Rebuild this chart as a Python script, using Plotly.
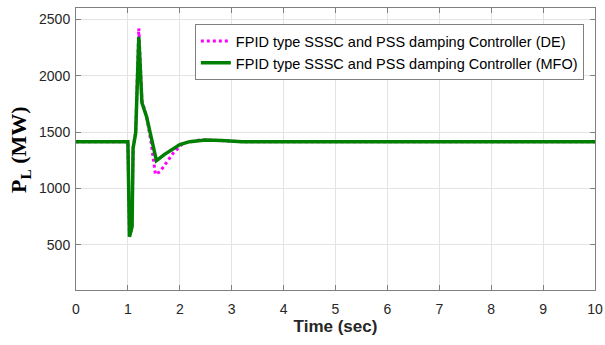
import plotly.graph_objects as go

# Time (sec) and load power P_L (MW)
t_de = [0, 1.0, 1.03, 1.08, 1.10, 1.15, 1.21, 1.27, 1.36, 1.45, 1.53, 1.62, 1.71, 1.87, 2.06, 2.4, 2.8, 3.2, 10]
p_de = [1415, 1415, 580, 650, 1360, 1500, 2420, 1780, 1640, 1400, 1125, 1150, 1208, 1312, 1400, 1432, 1425, 1415, 1415]

t_mfo = [0, 1.0, 1.03, 1.08, 1.10, 1.15, 1.21, 1.27, 1.36, 1.45, 1.55, 1.7, 1.87, 2.0, 2.19, 2.5, 2.8, 3.2, 10]
p_mfo = [1415, 1415, 572, 661, 1356, 1492, 2345, 1760, 1636, 1450, 1246, 1300, 1356, 1390, 1415, 1430, 1425, 1415, 1415]

x_ticks = list(range(0, 11))
y_ticks = [500, 1000, 1500, 2000, 2500]

name_de = "FPID type SSSC and PSS damping Controller (DE)"
name_mfo = "FPID type SSSC and PSS damping Controller (MFO)"

fig = go.Figure()
fig.add_trace(go.Scatter(x=t_de, y=p_de, mode="lines", name=name_de,
                         line=dict(color="#ff00ff", width=3, dash="dot")))
fig.add_trace(go.Scatter(x=t_mfo, y=p_mfo, mode="lines", name=name_mfo,
                         line=dict(color="#008000", width=3.5)))

axis_common = dict(showgrid=True, gridcolor="#e3e3e3", gridwidth=1, automargin=False,
                   showline=True, linecolor="#808080", linewidth=1, mirror="ticks",
                   ticks="inside", ticklen=5, tickcolor="#808080", zeroline=False,
                   tickfont=dict(family="Liberation Sans, Arial", size=14, color="#262626"))

fig.update_xaxes(range=[0, 10], tickvals=x_ticks, ticklabelstandoff=6, **axis_common,
                 title=dict(text="<b>Time (sec)</b>", standoff=0,
                            font=dict(family="Liberation Sans, Arial", size=17, color="#262626")))
fig.update_yaxes(range=[100, 2600], tickvals=y_ticks, ticklabelstandoff=2, **axis_common)

fig.add_annotation(text="<b>P<sub>L</sub> (MW)</b>", xref="paper", yref="paper",
                   x=-0.108, y=0.5, xanchor="center", yanchor="middle", textangle=-90,
                   showarrow=False,
                   font=dict(family="Liberation Serif, Times New Roman", size=22, color="#000000"))

fig.update_layout(
    width=605, height=345,
    margin=dict(l=76, r=10, t=8, b=55),
    paper_bgcolor="white", plot_bgcolor="white",
    showlegend=True,
    legend=dict(x=0.229, y=0.943, xanchor="left", yanchor="top",
                bgcolor="white", bordercolor="#808080", borderwidth=1,
                font=dict(family="Liberation Sans, Arial", size=14.5, color="#000000"),
                tracegroupgap=0, itemwidth=30),
)

fig.write_html("out.html", config={"displayModeBar": False},
               post_script="document.body.style.margin='0';")
